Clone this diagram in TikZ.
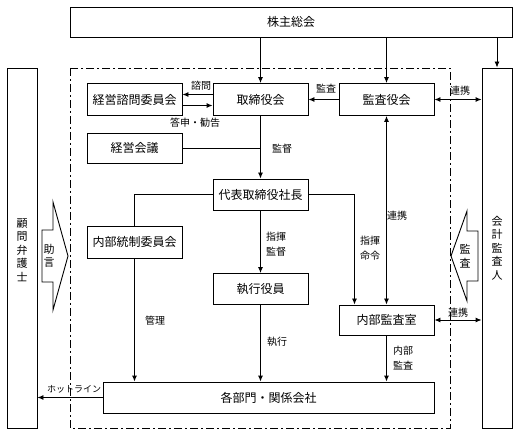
\documentclass[tikz,border=0pt]{standalone}
\usepackage{fontspec}
\setmainfont{Noto Sans CJK JP}
\usepackage{tikz}
\usetikzlibrary{arrows.meta}

\begin{document}
\begin{tikzpicture}[x=1pt, y=-1pt, line width=0.9pt,
  box/.style={draw, inner sep=0pt, font=\fontsize{12}{14}\selectfont},
  lbl/.style={inner sep=0pt, align=center, font=\fontsize{10}{15}\selectfont},
  vtext/.style={inner sep=0pt, align=center, font=\fontsize{11}{13.5}\selectfont},
  arr/.style={-{Latex[length=6pt,width=5pt]}},
  darr/.style={{Latex[length=6pt,width=5pt]}-{Latex[length=6pt,width=5pt]}},
  dashdot/.style={dash pattern=on 8pt off 3pt on 2pt off 3pt}]
\useasboundingbox (0,0) rectangle (519,435);

\draw[dashdot] (70,68) rectangle (450,428);

\node[box, minimum width=442pt, minimum height=30pt] (kabunushi) at (291,22) {株主総会};
\node[box, minimum width=30pt, minimum height=360pt] (bengoshi) at (22,248) {};
\node[box, minimum width=30pt, minimum height=360pt] (kansanin) at (497,248) {};
\node[vtext] (bengoshitext) at (22,250) {顧\\問\\弁\\護\\士};
\node[vtext] (kansanintext) at (497,248) {会\\計\\監\\査\\人};

\node[box, minimum width=95pt, minimum height=32pt] (shimon) at (134.5,99.5) {経営諮問委員会};
\node[box, minimum width=95pt, minimum height=32pt] (torishimari) at (260.5,99.5) {取締役会};
\node[box, minimum width=95pt, minimum height=32pt] (kansayaku) at (386.5,99.5) {監査役会};
\node[box, minimum width=95pt, minimum height=30pt] (keieikaigi) at (134.5,148) {経営会議};
\node[box, minimum width=95pt, minimum height=31pt] (shacho) at (260.5,194.5) {代表取締役社長};
\node[box, minimum width=95pt, minimum height=32pt] (tosei) at (134.5,242) {内部統制委員会};
\node[box, minimum width=95pt, minimum height=31pt] (shikko) at (260.5,289) {執行役員};
\node[box, minimum width=95pt, minimum height=30pt] (kansashitsu) at (386.5,320) {内部監査室};
\node[box, minimum width=331pt, minimum height=31pt] (kakubu) at (268.5,397.5) {各部門・関係会社};

\draw[arr] (torishimari.north |- kabunushi.south) -- (torishimari.north);
\draw[arr] (kansayaku.north |- kabunushi.south) -- (kansayaku.north);
\draw[arr] (kansanin.north |- kabunushi.south) -- (kansanin.north);

\draw[arr] ([yshift=5pt]torishimari.west) -- ([yshift=5pt]shimon.east);
\draw[arr] ([yshift=-6pt]shimon.east) -- ([yshift=-6pt]torishimari.west);
\draw[arr] (kansayaku.west) -- (torishimari.east);
\draw[darr] (kansayaku.east) -- (kansayaku.east -| kansanin.west);
\draw[arr] (torishimari.south) -- (shacho.north);
\draw (keieikaigi.east) -- (keieikaigi.east -| shacho.north);
\draw (shacho.west) -| (tosei.north);
\draw[arr] (shacho.east) -| ([xshift=-32pt]kansashitsu.north);
\draw[darr] (kansayaku.south) -- (kansashitsu.north);
\draw[darr] (kansashitsu.east) -- (kansashitsu.east -| kansanin.west);
\draw[arr] (shacho.south) -- (shikko.north);
\draw[arr] (shikko.south) -- (shikko.south |- kakubu.north);
\draw[arr] (tosei.south) -- (tosei.south |- kakubu.north);
\draw[arr] (kansashitsu.south) -- (kansashitsu.south |- kakubu.north);
\draw[arr] (kakubu.west) -- (kakubu.west -| bengoshi.east);

\draw (42,230) -- (53,230) -- (53,202) -- (68,256) -- (53,310) -- (53,282) -- (42,282) -- cycle;
\node[vtext] (jogen) at (49,256) {助\\言};
\draw (478,231) -- (467,231) -- (467,211) -- (451,256) -- (467,301) -- (467,281) -- (478,281) -- cycle;
\node[vtext] (kansa) at (465,256) {監\\査};

\node[lbl] (shimonlbl) at (201,86) {諮問};
\node[lbl] (toshinlbl) at (195,123) {答申・勧告};
\node[lbl] (kansalbl) at (326,89) {監査};
\node[lbl] (renkei1) at (460,91) {連携};
\node[lbl] (kantokulbl) at (282,149) {監督};
\node[lbl] (renkei2) at (397,216) {連携};
\node[lbl] (shikikantoku) at (276,244) {指揮\\監督};
\node[lbl] (shikimeirei) at (370,248) {指揮\\命令};
\node[lbl] (renkei3) at (458,313) {連携};
\node[lbl] (kanrilbl) at (155,321) {管理};
\node[lbl] (shikkolbl) at (277,342) {執行};
\node[lbl] (naibukansa) at (403,358) {内部\\監査};
\node[lbl, font=\fontsize{9}{11}\selectfont] (hotline) at (74,389) {ホットライン};

\end{tikzpicture}
\end{document}
